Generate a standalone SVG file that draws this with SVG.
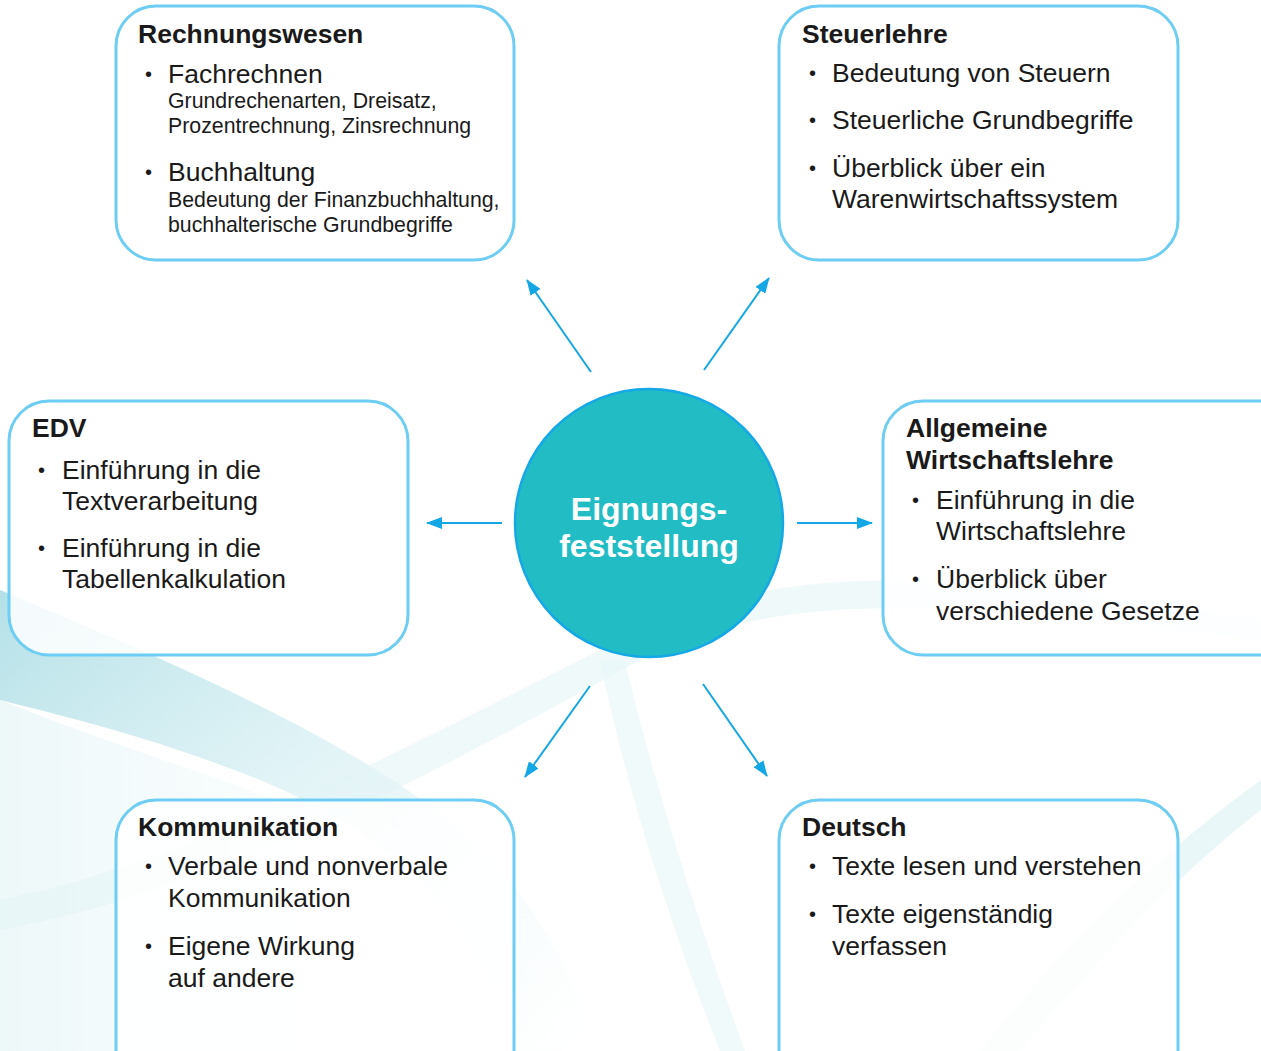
<svg xmlns="http://www.w3.org/2000/svg" width="1261" height="1051" viewBox="0 0 1261 1051">
<style>
.box{fill:#ffffff;fill-opacity:0.85;stroke:#6dcdf2;stroke-width:3}
.t{font-family:"Liberation Sans",Arial,sans-serif;font-weight:bold;font-size:26.5px;fill:#1a1a1a}
.i{font-family:"Liberation Sans",Arial,sans-serif;font-size:26.5px;fill:#1a1a1a}
.s{font-family:"Liberation Sans",Arial,sans-serif;font-size:21.3px;fill:#1a1a1a}
.b{font-family:"Liberation Sans",Arial,sans-serif;font-size:20px;fill:#1a1a1a}
.c{stroke:#13a7e6;stroke-width:2;fill:none;marker-end:url(#ah)}
.ct{font-family:"Liberation Sans",Arial,sans-serif;font-weight:bold;font-size:32px;fill:#ffffff;text-anchor:middle}
</style>
<defs>
<marker id="ah" viewBox="0 0 16 12" refX="15" refY="6" markerWidth="16" markerHeight="12" markerUnits="userSpaceOnUse" orient="auto">
<path d="M0,0 L16,6 L0,12 Z" fill="#13a7e6"/>
</marker>
<linearGradient id="sw1" x1="0" y1="0" x2="1" y2="1">
<stop offset="0" stop-color="#a6dbe3" stop-opacity="0.85"/>
<stop offset="0.6" stop-color="#d2eef2" stop-opacity="0.4"/>
<stop offset="1" stop-color="#eef9fa" stop-opacity="0"/>
</linearGradient>
<linearGradient id="sw2" x1="0" y1="0" x2="1" y2="0">
<stop offset="0" stop-color="#cdebef" stop-opacity="0.7"/>
<stop offset="1" stop-color="#eef9fa" stop-opacity="0"/>
</linearGradient>
</defs>
<rect width="1261" height="1051" fill="#ffffff"/>
<g id="background">
<path d="M0,590 C120,640 260,700 360,760 C460,820 540,880 600,1051 L520,1051 C470,900 380,830 260,780 C160,740 80,720 0,700 Z" fill="url(#sw1)"/>
<path d="M0,700 C150,760 300,800 420,860 C500,900 540,960 560,1051 L0,1051 Z" fill="url(#sw2)" opacity="0.5"/>
<path d="M0,900 C200,860 420,740 620,640 C760,570 900,560 1261,620 L1261,640 C900,590 760,600 640,660 C440,770 220,890 0,930 Z" fill="#e2f4f6" opacity="0.5"/>
<path d="M1261,780 C1150,860 1050,960 980,1051 L1020,1051 C1090,970 1170,880 1261,810 Z" fill="#dcf1f4" opacity="0.6"/>
<path d="M600,660 C620,760 660,900 720,1051 L745,1051 C690,900 648,760 625,660 Z" fill="#e6f6f8" opacity="0.6"/>
</g>
<g id="connectors">
<line class="c" x1="591" y1="372" x2="527" y2="280"/>
<line class="c" x1="704" y1="370" x2="769" y2="278"/>
<line class="c" x1="502" y1="523" x2="427" y2="523"/>
<line class="c" x1="797" y1="523" x2="872" y2="523"/>
<line class="c" x1="590" y1="686" x2="525" y2="777"/>
<line class="c" x1="703" y1="684" x2="767" y2="776"/>
</g>
<g id="center">
<circle cx="649" cy="523" r="134" fill="#22bcc5" stroke="#15a8e6" stroke-width="2.5"/>
<text class="ct" x="649" y="520">Eignungs-</text>
<text class="ct" x="649" y="557">feststellung</text>
</g>
<g id="rechnungswesen">
<rect class="box" x="116" y="6" width="398" height="254" rx="40"/>
<text class="t" x="138" y="43">Rechnungswesen</text>
<text class="b" x="145" y="81">•</text>
<text class="i" x="168" y="83">Fachrechnen</text>
<text class="s" x="168" y="108">Grundrechenarten, Dreisatz,</text>
<text class="s" x="168" y="133">Prozentrechnung, Zinsrechnung</text>
<text class="b" x="145" y="179">•</text>
<text class="i" x="168" y="181">Buchhaltung</text>
<text class="s" x="168" y="207">Bedeutung der Finanzbuchhaltung,</text>
<text class="s" x="168" y="232">buchhalterische Grundbegriffe</text>
</g>
<g id="steuerlehre">
<rect class="box" x="779" y="6" width="399" height="254" rx="40"/>
<text class="t" x="802" y="43">Steuerlehre</text>
<text class="b" x="809" y="80">•</text>
<text class="i" x="832" y="82">Bedeutung von Steuern</text>
<text class="b" x="809" y="127">•</text>
<text class="i" x="832" y="129">Steuerliche Grundbegriffe</text>
<text class="b" x="809" y="175">•</text>
<text class="i" x="832" y="177">Überblick über ein</text>
<text class="i" x="832" y="208">Warenwirtschaftssystem</text>
</g>
<g id="edv">
<rect class="box" x="9" y="401" width="399" height="254" rx="40"/>
<text class="t" x="32" y="437">EDV</text>
<text class="b" x="38" y="477">•</text>
<text class="i" x="62" y="479">Einführung in die</text>
<text class="i" x="62" y="510">Textverarbeitung</text>
<text class="b" x="38" y="555">•</text>
<text class="i" x="62" y="557">Einführung in die</text>
<text class="i" x="62" y="588">Tabellenkalkulation</text>
</g>
<g id="allgemeine-wirtschaftslehre">
<rect class="box" x="883" y="401" width="420" height="254" rx="40"/>
<text class="t" x="906" y="437">Allgemeine</text>
<text class="t" x="906" y="469">Wirtschaftslehre</text>
<text class="b" x="912" y="507">•</text>
<text class="i" x="936" y="509">Einführung in die</text>
<text class="i" x="936" y="540">Wirtschaftslehre</text>
<text class="b" x="912" y="586">•</text>
<text class="i" x="936" y="588">Überblick über</text>
<text class="i" x="936" y="620">verschiedene Gesetze</text>
</g>
<g id="kommunikation">
<rect class="box" x="116" y="800" width="398" height="290" rx="40"/>
<text class="t" x="138" y="836">Kommunikation</text>
<text class="b" x="145" y="873">•</text>
<text class="i" x="168" y="875">Verbale und nonverbale</text>
<text class="i" x="168" y="907">Kommunikation</text>
<text class="b" x="145" y="953">•</text>
<text class="i" x="168" y="955">Eigene Wirkung</text>
<text class="i" x="168" y="987">auf andere</text>
</g>
<g id="deutsch">
<rect class="box" x="779" y="800" width="399" height="290" rx="40"/>
<text class="t" x="802" y="836">Deutsch</text>
<text class="b" x="809" y="873">•</text>
<text class="i" x="832" y="875">Texte lesen und verstehen</text>
<text class="b" x="809" y="921">•</text>
<text class="i" x="832" y="923">Texte eigenständig</text>
<text class="i" x="832" y="955">verfassen</text>
</g>
</svg>
